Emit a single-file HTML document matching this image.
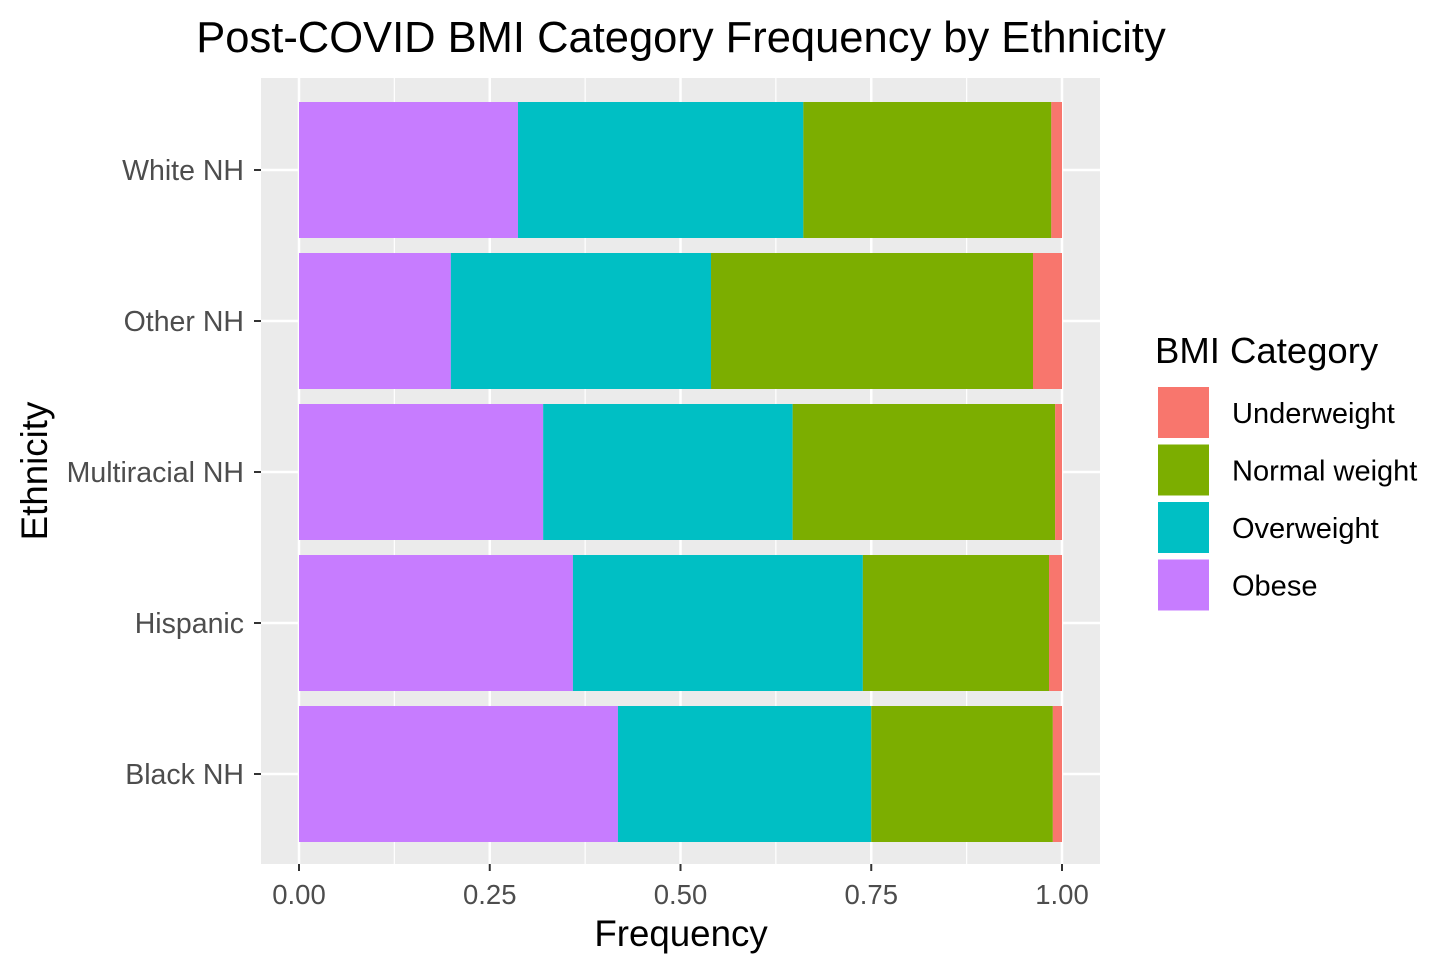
<!DOCTYPE html>
<html><head><meta charset="utf-8"><style>
body{margin:0;background:#fff}
svg{display:block;font-family:"Liberation Sans",Arial,sans-serif}
</style></head><body>
<svg id="chart" width="1455" height="972">
<rect width="1455" height="972" fill="#fff"/>
<text x="681" y="52" font-size="43.5" text-anchor="middle" fill="#000">Post-COVID BMI Category Frequency by Ethnicity</text>
<rect x="261" y="78" width="839" height="786" fill="#ebebeb"/>
<g id="grid"></g><g id="bars"></g><g id="axes"></g>
<text x="681" y="946" font-size="36.7" text-anchor="middle" fill="#000">Frequency</text>
<text transform="translate(47,471) rotate(-90)" font-size="36.7" text-anchor="middle" fill="#000">Ethnicity</text>
<g>
<text x="1155" y="363" font-size="36.5" fill="#000">BMI Category</text>
<g id="legend"></g>
</g>
</svg>
<script>
const categories=["White NH","Other NH","Multiracial NH","Hispanic","Black NH"];
const seriesNames=["Underweight","Normal weight","Overweight","Obese"];
const colors=["#F8766D","#7CAE00","#00BFC4","#C77CFF"];
const obese=[0.287,0.199,0.320,0.359,0.418];
const overweight=[0.374,0.341,0.327,0.380,0.332];
const normal=[0.325,0.422,0.344,0.244,0.238];
const underweight=[0.014,0.038,0.009,0.017,0.012];
const xTicks=[0,0.25,0.5,0.75,1];
const xTickLabels=["0.00","0.25","0.50","0.75","1.00"];
const NS="http://www.w3.org/2000/svg";
const x=v=>299+v*763;
const yC=i=>170+i*151;
const bh=136;
function mk(tag,attrs,parent){const e=document.createElementNS(NS,tag);for(const k in attrs)e.setAttribute(k,attrs[k]);parent.appendChild(e);return e;}
const grid=document.getElementById('grid'),bars=document.getElementById('bars'),axes=document.getElementById('axes'),leg=document.getElementById('legend');
for(let i=0;i<xTicks.length-1;i++){const m=(xTicks[i]+xTicks[i+1])/2;const l=mk('line',{x1:x(m),x2:x(m),y1:78,y2:864,stroke:'#fff','stroke-width':1.2},grid);

}
xTicks.forEach((t,i)=>{const l=mk('line',{x1:x(t),x2:x(t),y1:78,y2:864,stroke:'#fff','stroke-width':2.5},grid);


const tk=mk('line',{x1:x(t),x2:x(t),y1:864,y2:871,stroke:'#333','stroke-width':2},axes);


const tx=mk('text',{x:x(t),y:904,'font-size':27.5,'text-anchor':'middle',fill:'#4d4d4d'},axes);tx.textContent=xTickLabels[i];

});
categories.forEach((c,i)=>{const l=mk('line',{x1:261,x2:1100,y1:yC(i),y2:yC(i),stroke:'#fff','stroke-width':2.5},grid);


const tk=mk('line',{x1:254,x2:261,y1:yC(i),y2:yC(i),stroke:'#333','stroke-width':2},axes);


const tx=mk('text',{x:244,y:yC(i)+10,'font-size':28.5,'text-anchor':'end',fill:'#4d4d4d'},axes);tx.textContent=c;


const segs=[[obese[i],3,'obese'],[overweight[i],2,'overweight'],[normal[i],1,'normal-weight'],[underweight[i],0,'underweight']];
let acc=0;segs.forEach(([v,ci,nm])=>{const r=mk('rect',{x:x(acc),y:yC(i)-bh/2,width:x(acc+v)-x(acc),height:bh,fill:colors[ci]},bars);


acc+=v;});});
seriesNames.forEach((s,i)=>{const y0=386+i*57.5;const r=mk('rect',{x:1157,y:y0,width:53,height:53,fill:colors[i],stroke:'#fff','stroke-width':2},leg);


const t=mk('text',{x:1232,y:y0+37,'font-size':29,fill:'#000'},leg);t.textContent=s;

});
</script>
</body></html>
